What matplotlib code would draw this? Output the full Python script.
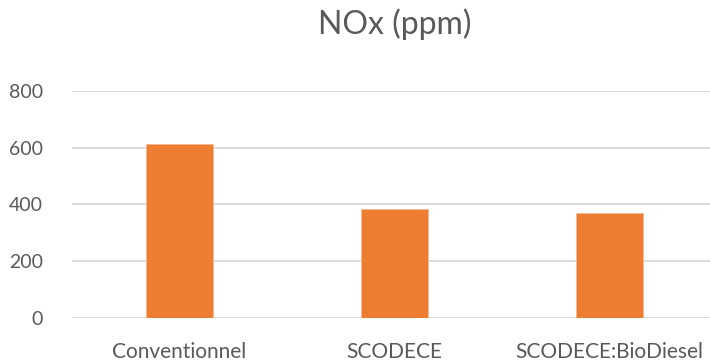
import matplotlib.pyplot as plt
import numpy as np

categories = ['Conventionnel', 'SCODECE', 'SCODECE:BioDiesel']
nox_ppm = [612, 382, 370]
y_ticks = [0, 200, 400, 600, 800]

TEXT = '#595959'
GRID = '#D9D9D9'
BAR = '#ED7D31'

plt.rcParams['font.family'] = ['Lato', 'DejaVu Sans']

fig = plt.figure(figsize=(7.1, 3.62), dpi=100)
ax = fig.add_axes([72 / 710, 1 - 318 / 362, 1 - 72 / 710, (318 - 90.7) / 362])

x = np.arange(len(categories))
ax.bar(x, nox_ppm, width=0.31, color=BAR, edgecolor='#F6B88F', linewidth=0.6, zorder=3)

ax.set_xlim(-0.5, -0.5 + 638 / 215)
ax.set_ylim(0, 800)
ax.set_yticks(y_ticks)
ax.set_xticks(x)
ax.set_xticklabels(categories)
ax.yaxis.grid(True, color=GRID, linewidth=1.3, zorder=0)
ax.set_axisbelow(True)
for s in ax.spines.values():
    s.set_visible(False)
ax.tick_params(axis='y', length=0, colors=TEXT, labelsize=14, pad=21)
ax.tick_params(axis='x', length=0, colors=TEXT, labelsize=15, pad=17)

fig.text(395 / 710, 1 - 24 / 362, 'NOx (ppm)', ha='center', va='center',
         fontsize=23, color=TEXT)

plt.savefig('out.png')
